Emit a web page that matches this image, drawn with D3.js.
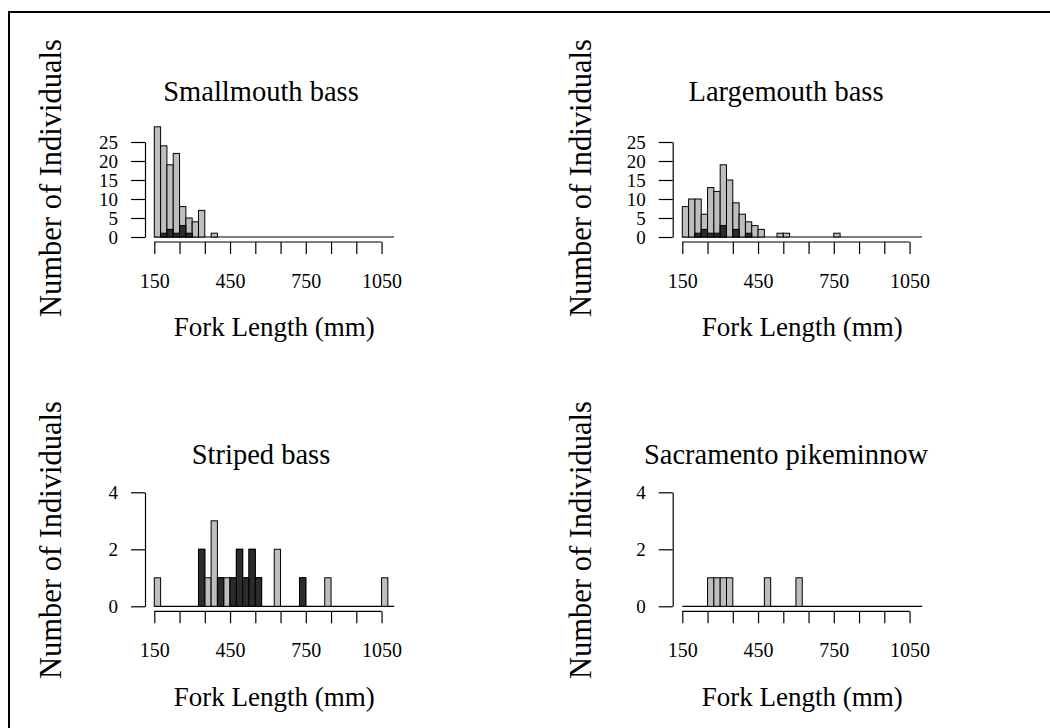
<!DOCTYPE html>
<html>
<head>
<meta charset="utf-8">
<script src="https://cdn.jsdelivr.net/npm/d3@7"></script>
<style>
  html, body { margin: 0; padding: 0; background: #fff; }
  text { font-family: "Liberation Serif", "Times New Roman", serif; fill: #000; }
</style>
</head>
<body>
<svg id="chart" width="1050" height="728"></svg>
<script>
// ---------------- data ----------------
const speciesNames = ["Smallmouth bass", "Largemouth bass", "Striped bass", "Sacramento pikeminnow"];
const binStart = 150, binEnd = 1100, binWidth = 25;   // 38 bins of 25 mm

// total individuals per 25-mm bin (grey bars)
const smallmouthTotal = [29,24,19,22,8,5,4,7,0,1, 0,0,0,0,0,0,0,0,0,0, 0,0,0,0,0,0,0,0,0,0, 0,0,0,0,0,0,0,0];
const largemouthTotal = [8,10,10,6,13,12,19,15,9,6, 4,3,2,0,0,1,1,0,0,0, 0,0,0,0,1,0,0,0,0,0, 0,0,0,0,0,0,0,0];
const stripedTotal    = [1,0,0,0,0,0,0,2,1,3, 1,1,1,2,1,2,1,0,0,2, 0,0,0,1,0,0,0,1,0,0, 0,0,0,0,0,0,1,0];
const pikeminnowTotal = [0,0,0,0,1,1,1,1,0,0, 0,0,0,1,0,0,0,0,1,0, 0,0,0,0,0,0,0,0,0,0, 0,0,0,0,0,0,0,0];

// subset per bin (dark bars)
const smallmouthDark  = [0,1,2,1,3,1,0,0,0,0, 0,0,0,0,0,0,0,0,0,0, 0,0,0,0,0,0,0,0,0,0, 0,0,0,0,0,0,0,0];
const largemouthDark  = [0,0,1,2,1,1,3,0,2,0, 1,0,0,0,0,0,0,0,0,0, 0,0,0,0,0,0,0,0,0,0, 0,0,0,0,0,0,0,0];
const stripedDark     = [0,0,0,0,0,0,0,2,0,0, 1,0,1,2,1,2,1,0,0,0, 0,0,0,1,0,0,0,0,0,0, 0,0,0,0,0,0,0,0];
const pikeminnowDark  = [0,0,0,0,0,0,0,0,0,0, 0,0,0,0,0,0,0,0,0,0, 0,0,0,0,0,0,0,0,0,0, 0,0,0,0,0,0,0,0];

const xTicks = [150,250,350,450,550,650,750,850,950,1050];
const xTickLabels = [150,450,750,1050];
const yTicksTop = [0,5,10,15,20,25];
const yTicksBottom = [0,2,4];
const xLabel = "Fork Length (mm)";
const yLabel = "Number of Individuals";

// ---------------- layout ----------------
const panels = [
  {name: speciesNames[0], total: smallmouthTotal, dark: smallmouthDark, col: 0, row: 0},
  {name: speciesNames[1], total: largemouthTotal, dark: largemouthDark, col: 1, row: 0},
  {name: speciesNames[2], total: stripedTotal,    dark: stripedDark,    col: 0, row: 1},
  {name: speciesNames[3], total: pikeminnowTotal, dark: pikeminnowDark, col: 1, row: 1}
];
const colX0   = [154.3, 682.3];   // pixel of 150 mm
const colAxis = [145, 672.7];     // y-axis line
const colTitle = [261, 786];
const colYLab = [50, 580];
const rowBase = [237, 606.3];
const rowTop  = [142, 492.3];
const rowTitle = [101, 464];
const rowYLabC = [178, 540];
const pxPerMm = 0.2525;

const svg = d3.select("#chart");
svg.append("rect").attr("width", 1050).attr("height", 728).attr("fill", "#fff");
// frame (only top/left visible in the crop)
svg.append("path").attr("d", "M9,728 L9,12 L1050,12")
  .attr("fill", "none").attr("stroke", "#000").attr("stroke-width", 2);

const GREY = "#bebebe", DARK = "#2b2b2b";

panels.forEach(p => {
  const g = svg.append("g");
  const x0 = colX0[p.col];
  const base = rowBase[p.row];
  const yTicks = p.row === 0 ? yTicksTop : yTicksBottom;
  const xs = d3.scaleLinear().domain([binStart, binEnd]).range([x0, x0 + (binEnd - binStart) * pxPerMm]);
  const ys = d3.scaleLinear().domain([0, d3.max(yTicks)]).range([base, rowTop[p.row]]);
  const bins = d3.range(binStart, binEnd, binWidth);

  // baseline formed by the empty bins
  g.append("line").attr("x1", xs(binStart)).attr("x2", xs(binEnd))
    .attr("y1", base).attr("y2", base).attr("stroke", "#000").attr("stroke-width", 1.2);

  const drawBars = (vals, fill) => {
    g.append("g").selectAll("rect")
      .data(bins.map((b, i) => ({b, v: vals[i]})).filter(d => d.v > 0))
      .join("rect")
      .attr("x", d => xs(d.b))
      .attr("width", d => xs(d.b + binWidth) - xs(d.b))
      .attr("y", d => ys(d.v))
      .attr("height", d => base - ys(d.v))
      .attr("fill", fill).attr("stroke", "#000").attr("stroke-width", 1);
  };
  drawBars(p.total, GREY);
  drawBars(p.dark, DARK);

  // x axis
  const xAxis = d3.axisBottom(xs).tickValues(xTicks).tickSize(12).tickSizeOuter(0)
    .tickFormat(d => xTickLabels.includes(d) ? d : "");
  const gx = g.append("g").attr("transform", `translate(0,${base + 5})`).call(xAxis);
  gx.select(".domain").remove();
  gx.append("line").attr("x1", xs(xTicks[0])).attr("x2", xs(xTicks[xTicks.length - 1]))
    .attr("stroke", "#000").attr("stroke-width", 1.2);
  gx.selectAll(".tick line").attr("stroke", "#000").attr("stroke-width", 1.2);
  gx.selectAll(".tick text").attr("y", 39).attr("dy", "0.35em")
    .style("font-family", "Liberation Serif").style("font-size", "20px").attr("fill", "#000");

  // y axis
  const yAxis = d3.axisLeft(ys).tickValues(yTicks).tickSize(14).tickSizeOuter(0).tickPadding(13)
    .tickFormat(d3.format("d"));
  const gy = g.append("g").attr("transform", `translate(${colAxis[p.col]},0)`).call(yAxis);
  gy.select(".domain").attr("stroke", "#000").attr("stroke-width", 1.2);
  gy.selectAll(".tick line").attr("stroke", "#000").attr("stroke-width", 1.2);
  gy.selectAll(".tick text").attr("dy", "0.35em")
    .style("font-family", "Liberation Serif").style("font-size", "19px").attr("fill", "#000");

  // title
  g.append("text").attr("x", colTitle[p.col]).attr("y", rowTitle[p.row])
    .attr("text-anchor", "middle").style("font-size", "28.5px").text(p.name);
  // x label
  g.append("text").attr("x", x0 + 120).attr("y", base + 90).attr("dy", "0.35em")
    .attr("text-anchor", "middle").style("font-size", "27px").text(xLabel);
  // y label
  g.append("text").attr("transform", `translate(${colYLab[p.col]},${rowYLabC[p.row]}) rotate(-90)`)
    .attr("dy", "0.35em").attr("text-anchor", "middle").style("font-size", "30.5px").text(yLabel);
});
</script>
</body>
</html>
